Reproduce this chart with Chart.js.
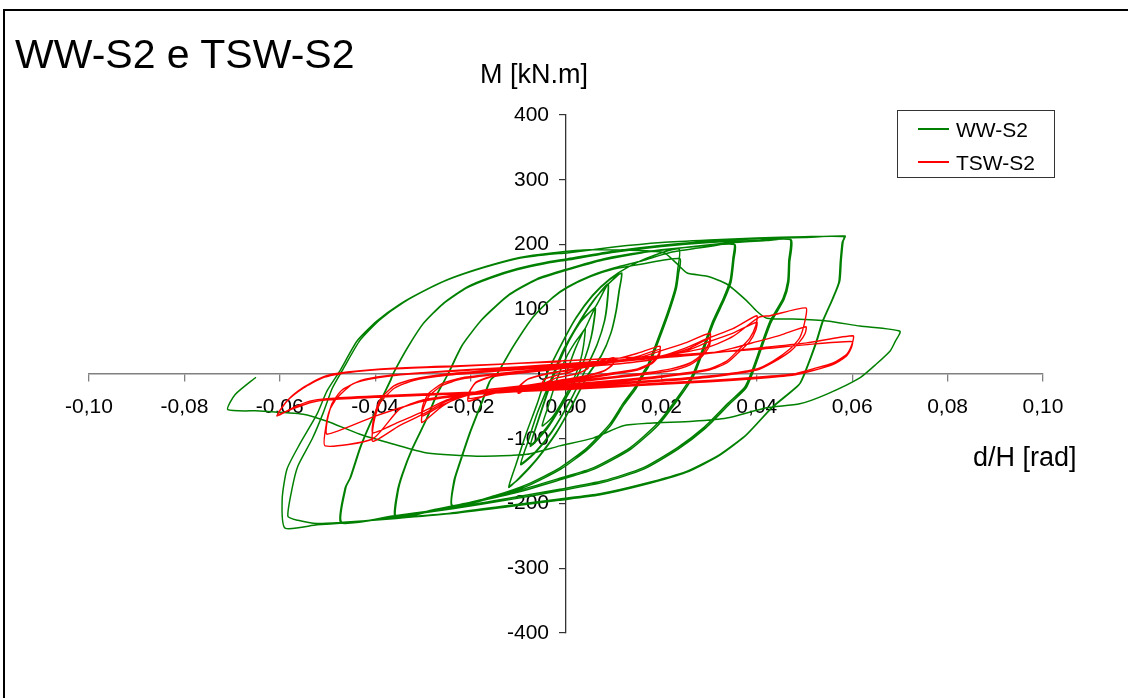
<!DOCTYPE html>
<html>
<head>
<meta charset="utf-8">
<script src="https://cdn.jsdelivr.net/npm/chart.js@4.4.1/dist/chart.umd.min.js"></script>
<style>
  html, body { margin: 0; padding: 0; background: #fff; }
  #wrap { position: relative; width: 1128px; height: 698px; overflow: hidden; font-family: 'Liberation Sans', Arial, sans-serif; color: #000; }
  #frame { position: absolute; left: 3px; top: 9px; width: 1200px; height: 800px; border-top: 2px solid #000; border-left: 2px solid #000; }
  .txt { position: absolute; white-space: nowrap; }
  #title { left: 15px; top: 34px; font-size: 41px; line-height: 41px; }
  #ytitle { left: 480px; top: 61px; font-size: 27px; line-height: 27px; }
  #xtitle { left: 973px; top: 444px; font-size: 27px; line-height: 27px; }
  #legend { position: absolute; left: 897px; top: 110px; width: 156px; height: 66px; border: 1px solid #333; background: #fff; }
  .lline { position: absolute; left: 20px; width: 31px; height: 0; border-top: 2px solid; }
  .ltxt { position: absolute; left: 58px; font-size: 21px; line-height: 21px; }
  canvas { position: absolute; left: 0; top: 0; }
</style>
</head>
<body>
<div id="wrap">
  <canvas id="c" width="1128" height="698"></canvas>
  <div id="frame"></div>
  <div class="txt" id="title">WW-S2 e TSW-S2</div>
  <div class="txt" id="ytitle">M [kN.m]</div>
  <div class="txt" id="xtitle">d/H [rad]</div>
  <div id="legend">
    <div class="lline" style="top:17px;border-color:#008000"></div>
    <div class="ltxt" style="top:8px">WW-S2</div>
    <div class="lline" style="top:50px;border-color:#ff0000"></div>
    <div class="ltxt" style="top:41px">TSW-S2</div>
  </div>
</div>
<script>
// ---------- axis ticks ----------
const xTickValues = [-0.10, -0.08, -0.06, -0.04, -0.02, 0.00, 0.02, 0.04, 0.06, 0.08, 0.10];
const yTickValues = [-400, -300, -200, -100, 0, 100, 200, 300, 400];

// ---------- WW-S2 (green), cycles: [d/H, M] ----------
const wwSmall1 = [[0,0],[0.002,40],[0.004,70],[0.0037,45],[0.003,20],[0.0015,-10],[-0.001,-45],[-0.003,-68],[-0.005,-80],[-0.0035,-45],[-0.002,-10],[0,25],[0.002,50],[0.004,70]];
const wwSmall2 = [[0.0061,102],[0.0058,80],[0.0052,55],[0.004,25],[0.002,-10],[-0.001,-50],[-0.004,-85],[-0.0075,-112],[-0.006,-75],[-0.004,-30],[-0.002,10],[0.0005,50],[0.003,80],[0.0061,102],[0.0059,82],[0.0053,57],[0.0041,27],[0.0021,-8],[-0.0009,-48],[-0.0041,-83],[-0.0074,-110],[-0.0058,-72],[-0.0038,-28],[-0.0018,12],[0.0007,52],[0.0035,85],[0.0062,104]];
const wwSmall3 = [[0.0088,139],[0.0086,110],[0.008,80],[0.0065,45],[0.004,5],[0.001,-40],[-0.003,-90],[-0.0065,-122],[-0.0095,-140],[-0.008,-105],[-0.006,-60],[-0.0035,-15],[-0.001,30],[0.002,70],[0.0055,110],[0.0088,139],[0.0087,112],[0.0081,82],[0.0066,47],[0.0041,7],[0.0011,-38],[-0.0029,-88],[-0.0064,-120],[-0.0094,-138],[-0.0079,-103],[-0.0059,-58],[-0.0034,-13],[-0.0009,32],[0.0021,72],[0.0056,112],[0.009,140]];
const wwSmall4 = [[0.0117,156],[0.0112,130],[0.0106,100],[0.0095,65],[0.0075,30],[0.0047,0],[0.0015,-45],[-0.002,-90],[-0.006,-130],[-0.0095,-158],[-0.012,-175],[-0.0105,-140],[-0.0085,-95],[-0.006,-45],[-0.004,0],[-0.001,45],[0.002,85],[0.0055,120],[0.009,145],[0.0116,155],[0.0111,128],[0.0105,98],[0.0094,63],[0.0074,28],[0.0046,-2],[0.0014,-47],[-0.0021,-92],[-0.0061,-132],[-0.0096,-160],[-0.0119,-173],[-0.0104,-138],[-0.0084,-93],[-0.0059,-43],[-0.0039,2],[-0.0009,47],[0.0021,87],[0.0056,122],[0.0092,147],[0.013,165],[0.018,182]];
const wwCycle024 = [[0.0237,193],[0.0234,160],[0.0229,133],[0.0212,93],[0.0191,51],[0.0172,15],[0.016,0],[0.0145,-20],[0.012,-45],[0.0092,-77],[0.0044,-114],[-0.0013,-145],[-0.008,-170],[-0.015,-188],[-0.0239,-205],
  [-0.0235,-165],[-0.0224,-139],[-0.0203,-93],[-0.0176,-42],[-0.016,-11],[-0.0145,0],[-0.0113,40],[-0.0071,86],[-0.0029,117],[0.0002,133],[0.005,150],[0.010,162],[0.016,170],[0.0239,178],
  [0.0236,155],[0.0231,131],[0.0214,91],[0.0193,49],[0.0174,13],[0.0162,-2],[0.0147,-22],[0.0122,-47],[0.0094,-79],[0.0046,-116],[-0.0011,-147],[-0.0078,-172],[-0.0148,-190],[-0.0238,-203],
  [-0.0233,-163],[-0.0222,-137],[-0.0201,-91],[-0.0174,-40],[-0.0158,-9],[-0.0143,2],[-0.0111,42],[-0.0069,88],[-0.0027,119],[0.0004,135],[0.0052,152],[0.0102,164],[0.016,175],[0.022,188],[0.03,197]];
const wwCycle036 = [[0.0352,201],[0.035,179],[0.0344,144],[0.033,117],[0.0308,82],[0.0287,40],[0.0266,0],[0.0233,-37],[0.0191,-77],[0.0134,-114],[0.0057,-145],[-0.0013,-161],[-0.01,-180],[-0.02,-198],[-0.028,-210],[-0.0356,-221],
  [-0.0352,-181],[-0.0342,-154],[-0.0321,-114],[-0.0291,-68],[-0.027,-31],[-0.0247,0],[-0.0216,46],[-0.0174,86],[-0.0117,124],[-0.0061,147],[0.0002,162],[0.008,178],[0.016,188],[0.026,196],[0.0354,200],
  [0.0352,177],[0.0346,142],[0.0332,115],[0.031,80],[0.0289,38],[0.0268,-2],[0.0235,-39],[0.0193,-79],[0.0136,-116],[0.0059,-147],[-0.0011,-163],[-0.0098,-182],[-0.0198,-199],[-0.0278,-211],[-0.0358,-222],
  [-0.0354,-183],[-0.0344,-156],[-0.0323,-116],[-0.0293,-70],[-0.0272,-33],[-0.0249,-2],[-0.0218,44],[-0.0176,84],[-0.0119,122],[-0.0063,145],[0,160],[0.0078,176],[0.0158,187],[0.0258,196],[0.035,203],[0.042,206]];
const wwCycle048 = [[0.047,208],[0.0467,175],[0.0465,144],[0.0455,117],[0.0428,82],[0.0407,40],[0.039,5],[0.0375,-20],[0.034,-45],[0.029,-82],[0.0233,-114],[0.0161,-145],[0.0078,-165],[-0.0013,-178],[-0.012,-192],[-0.024,-207],[-0.036,-219],[-0.0472,-230],
  [-0.0463,-176],[-0.0453,-161],[-0.0432,-114],[-0.0411,-77],[-0.0386,-37],[-0.0369,-11],[-0.0363,0],[-0.0333,40],[-0.030,77],[-0.0258,108],[-0.0208,133],[-0.0159,148],[-0.0103,161],[-0.0048,170],[0.0002,176],[0.01,188],[0.02,197],[0.03,203],[0.04,206],[0.0472,207],
  [0.0469,173],[0.0467,142],[0.0457,115],[0.043,80],[0.0409,38],[0.0392,3],[0.0377,-22],[0.0342,-47],[0.0292,-84],[0.0235,-116],[0.0163,-147],[0.008,-167],[-0.0011,-180],[-0.0118,-194],[-0.0238,-208],[-0.0358,-220],[-0.047,-229],
  [-0.0461,-174],[-0.0451,-159],[-0.043,-112],[-0.0409,-75],[-0.0384,-35],[-0.0367,-9],[-0.0361,2],[-0.0331,42],[-0.0298,79],[-0.0256,110],[-0.0206,135],[-0.0157,150],[-0.0101,163],[-0.0046,172],[0.0004,178],[0.0102,190],[0.0202,199],[0.0302,205],[0.0402,209],[0.05,211]];
const wwCycle060 = [[0.0585,213],[0.0581,205],[0.0577,175],[0.0574,144],[0.056,117],[0.0539,82],[0.0526,51],[0.0505,9],[0.049,-15],[0.0434,-50],[0.0379,-93],[0.0323,-124],[0.0254,-150],[0.0161,-170],[0.0071,-185],[-0.0013,-193],[-0.012,-203],[-0.0243,-215],[-0.0354,-222],[-0.0467,-230],[-0.0522,-233],[-0.0589,-238],
  [-0.0595,-193],[-0.0585,-147],[-0.0558,-108],[-0.0522,-62],[-0.0501,-26],[-0.0474,5],[-0.0438,51],[-0.0396,82],[-0.0348,108],[-0.0291,131],[-0.0243,147],[-0.0174,164],[-0.0103,178],[-0.0034,185],[0.0002,187],[0.01,196],[0.02,203],[0.03,207],[0.04,210],[0.05,212],[0.0583,212],
  [0.0579,203],[0.0575,173],[0.0572,142],[0.0558,115],[0.0537,80],[0.0524,49],[0.0503,7],[0.0488,-17],[0.0432,-52],[0.0377,-95],[0.0321,-126],[0.0252,-152],[0.0159,-172],[0.0069,-187],[-0.0015,-195],[-0.0122,-205],[-0.0245,-216],[-0.0356,-223],[-0.0467,-229],[-0.0522,-231],[-0.0562,-226],[-0.0583,-220],
  [-0.0574,-176],[-0.0562,-142],[-0.0532,-100],[-0.0509,-60],[-0.049,-22],[-0.0467,8],[-0.0432,52],[-0.039,84],[-0.0342,110],[-0.0285,133],[-0.0237,149],[-0.0168,166],[-0.0097,180],[-0.003,187],[0.005,192],[0.0203,188]];
const wwFinal = [[0.0233,170],[0.0254,156],[0.0296,151],[0.0337,139],[0.0379,113],[0.04,97],[0.0421,86],[0.0476,85],[0.0547,82],[0.0616,74],[0.070,66],[0.069,50],[0.068,36],[0.065,15],[0.0616,-6],[0.0547,-31],[0.049,-46],[0.0421,-52],[0.0337,-68],[0.0266,-73],[0.0176,-76],[0.012,-80],[0.0057,-99],[-0.0013,-111],[-0.0082,-124],[-0.0187,-127],[-0.0291,-122],[-0.0363,-108],[-0.0432,-93],[-0.0501,-73],[-0.0551,-62],[-0.0642,-57],[-0.0709,-55],[-0.0694,-32],[-0.065,-5]];

// ---------- TSW-S2 (red), cycles: [d/H, M] ----------
const tswSmall = [[0,0],[0.0025,8],[0.005,15],[0.0045,8],[0.002,0],[-0.002,-6],[-0.005,-15],[-0.0045,-8],[-0.002,-2],[0.002,6],[0.005,15],
  [0.01,25],[0.0098,15],[0.008,5],[0.004,-3],[0,-8],[-0.005,-15],[-0.008,-22],[-0.01,-30],[-0.0098,-20],[-0.008,-8],[-0.004,0],[0,5],[0.005,12],[0.008,18],[0.01,25],
  [0.0098,14],[0.0078,4],[0.0038,-4],[-0.0002,-9],[-0.0052,-16],[-0.0082,-23],[-0.01,-28],[-0.0098,-19],[-0.0078,-7],[-0.0038,1],[0.0002,6],[0.005,12],[0.01,22],[0.015,32]];
const tswCycle02 = [[0.0197,43],[0.0195,32],[0.018,18],[0.015,8],[0.01,2],[0.005,-4],[0,-9],[-0.005,-14],[-0.01,-20],[-0.015,-28],[-0.0205,-42],
  [-0.0203,-28],[-0.019,-14],[-0.016,-5],[-0.01,1],[-0.005,5],[0,9],[0.005,13],[0.01,18],[0.015,27],[0.0197,38],
  [0.0195,28],[0.018,16],[0.015,6],[0.01,0],[0.005,-6],[0,-11],[-0.005,-16],[-0.01,-22],[-0.015,-30],[-0.0203,-38],
  [-0.0201,-26],[-0.0188,-12],[-0.0158,-4],[-0.01,2],[-0.005,6],[0,10],[0.005,14],[0.01,19],[0.015,25],[0.02,36],[0.025,48]];
const tswCycle03 = [[0.0302,63],[0.03,48],[0.0285,30],[0.026,17],[0.022,8],[0.015,0],[0.01,-4],[0,-12],[-0.01,-19],[-0.018,-26],[-0.022,-35],[-0.026,-50],[-0.0302,-75],
  [-0.03,-55],[-0.0288,-35],[-0.026,-18],[-0.022,-8],[-0.015,-1],[-0.01,3],[0,9],[0.01,15],[0.018,22],[0.022,30],[0.026,40],[0.0302,55],
  [0.03,42],[0.0285,27],[0.026,14],[0.022,5],[0.015,-2],[0.01,-6],[0,-14],[-0.01,-21],[-0.018,-28],[-0.022,-36],[-0.026,-48],[-0.0302,-65],
  [-0.03,-48],[-0.0288,-30],[-0.026,-15],[-0.022,-6],[-0.015,0],[-0.01,4],[0,11],[0.01,18],[0.02,28],[0.025,40],[0.03,56],[0.035,70]];
const tswCycle04 = [[0.040,90],[0.0398,75],[0.0385,55],[0.036,36],[0.0337,20],[0.03,8],[0.02,-3],[0.01,-10],[0,-16],[-0.01,-22],[-0.02,-30],[-0.025,-42],[-0.03,-62],[-0.035,-80],[-0.0405,-104],
  [-0.0403,-75],[-0.039,-45],[-0.036,-22],[-0.032,-10],[-0.025,-2],[-0.015,4],[0,12],[0.01,18],[0.02,26],[0.025,35],[0.03,50],[0.035,63],[0.04,80],
  [0.0398,68],[0.0385,50],[0.036,32],[0.0337,17],[0.03,6],[0.02,-5],[0.01,-12],[0,-18],[-0.01,-24],[-0.02,-32],[-0.025,-40],[-0.03,-58],[-0.035,-74],[-0.0405,-91],
  [-0.0403,-68],[-0.039,-40],[-0.036,-18],[-0.032,-8],[-0.025,0],[-0.015,6],[0,14],[0.01,20],[0.02,28],[0.03,42],[0.035,58],[0.0405,88],[0.0428,90]];
const tswCycle05 = [[0.0503,102],[0.0501,82],[0.049,56],[0.047,39],[0.0434,20],[0.04,8],[0.03,-3],[0.02,-9],[0.01,-14],[0,-20],[-0.01,-25],[-0.02,-30],[-0.03,-40],[-0.035,-55],[-0.0405,-100],[-0.0505,-111],
  [-0.0503,-80],[-0.0495,-55],[-0.048,-37],[-0.0446,-15],[-0.0396,-6],[-0.0327,0],[-0.02,6],[-0.01,10],[0,15],[0.01,20],[0.02,25],[0.03,32],[0.035,40],[0.04,50],[0.045,60],[0.0503,73],
  [0.0501,62],[0.049,50],[0.047,35],[0.0434,18],[0.04,6],[0.03,-5],[0.02,-11],[0.01,-16],[0,-22],[-0.01,-27],[-0.02,-32],[-0.03,-42],[-0.04,-65],[-0.0501,-93],
  [-0.05,-70],[-0.049,-45],[-0.047,-25],[-0.043,-10],[-0.038,-3],[-0.03,2],[-0.02,7],[-0.01,11],[0,16],[0.01,21],[0.02,26],[0.03,32],[0.04,40],[0.0505,48]];
const tswCycle06 = [[0.0602,59],[0.06,47],[0.0589,31],[0.056,17],[0.0518,8],[0.0476,0],[0.04,-5],[0.03,-10],[0.02,-14],[0.01,-18],[0,-22],[-0.01,-25],[-0.02,-28],[-0.03,-31],[-0.04,-34],[-0.05,-38],[-0.0537,-42],[-0.0572,-52],[-0.0606,-65],
  [-0.0585,-42],[-0.0551,-22],[-0.051,-6],[-0.046,2],[-0.0363,8],[-0.0222,12],[-0.0013,20],[0.02,28],[0.04,38],[0.05,45],[0.06,50],
  [0.0598,40],[0.0587,27],[0.0558,14],[0.0516,5],[0.0474,-2],[0.04,-7],[0.03,-12],[0.02,-16],[0.01,-20],[0,-24],[-0.01,-27],[-0.02,-30],[-0.03,-33],[-0.04,-36],[-0.05,-40],[-0.0535,-44],[-0.057,-53],[-0.0604,-62],
  [-0.0583,-40],[-0.0549,-20],[-0.0508,-4],[-0.0458,3],[-0.036,9],[-0.022,13],[-0.001,19]];

// ---------- build ----------
const toPts = arr => arr.map(p => ({x: p[0], y: p[1]}));
const wwData = toPts([].concat(wwSmall1, wwSmall2, wwSmall3, wwSmall4, wwCycle024, wwCycle036, wwCycle048, wwCycle060, wwFinal));
const tswData = toPts([].concat(tswSmall, tswCycle02, tswCycle03, tswCycle04, tswCycle05, tswCycle06));

const fontFam = "'Liberation Sans', Arial, sans-serif";
const fmtX = v => (Math.abs(v) < 1e-9 ? 0 : v).toFixed(2).replace('.', ',');

// y axis sits at x = 0: put its labels and tick marks on the left side of the axis line
const centerAxisFix = {
  id: 'centerAxisFix',
  beforeDraw(chart) {
    const ys = chart.scales.y, xs = chart.scales.x;
    const x0 = xs.getPixelForValue(0);
    const labels = ys.getLabelItems(chart.chartArea);
    if (!labels._fixed) {
      labels.forEach(it => { it.options.translation[0] = x0 - 17; it.options.textAlign = 'right'; });
      labels._fixed = true;
    }
    if (!ys._gridLineItems) ys._gridLineItems = ys._computeGridLineItems(chart.chartArea);
    const grid = ys._gridLineItems;
    if (!grid._fixed) {
      grid.forEach(g => { g.tx1 = x0; g.tx2 = x0 - 7; });
      grid._fixed = true;
    }
  }
};

new Chart(document.getElementById('c'), {
  type: 'scatter',
  data: {
    datasets: [
      { label: 'TSW-S2', data: tswData, showLine: true, borderColor: '#ff0000', borderWidth: 1.4, pointRadius: 0, tension: 0.2, order: 0 },
      { label: 'WW-S2', data: wwData, showLine: true, borderColor: '#008000', borderWidth: 1.5, pointRadius: 0, tension: 0.2, order: 1 }
    ]
  },
  plugins: [centerAxisFix],
  options: {
    responsive: false,
    animation: false,
    events: [],
    layout: { padding: { left: 89, right: 85, top: 115, bottom: 65 } },
    plugins: { legend: { display: false }, tooltip: { enabled: false }, title: { display: false } },
    scales: {
      x: {
        type: 'linear', position: { y: 0 }, min: -0.1, max: 0.1,
        afterBuildTicks: s => { s.ticks = xTickValues.map(v => ({ value: v })); },
        ticks: { callback: v => fmtX(v), color: '#000', font: { size: 21, family: fontFam }, padding: 14, maxRotation: 0, autoSkip: false },
        grid: { drawOnChartArea: false, drawTicks: true, tickLength: 7, color: '#808080', lineWidth: 1.3 },
        border: { display: true, color: '#808080', width: 1.5 }
      },
      y: {
        type: 'linear', position: { x: 0 }, min: -400, max: 400,
        afterBuildTicks: s => { s.ticks = yTickValues.map(v => ({ value: v })); },
        ticks: { callback: v => String(v), color: '#000', font: { size: 21, family: fontFam }, padding: 10, autoSkip: false },
        grid: { drawOnChartArea: false, drawTicks: true, tickLength: 7, color: '#333', lineWidth: 1.2 },
        border: { display: true, color: '#333', width: 1.3 }
      }
    }
  }
});
</script>
</body>
</html>
